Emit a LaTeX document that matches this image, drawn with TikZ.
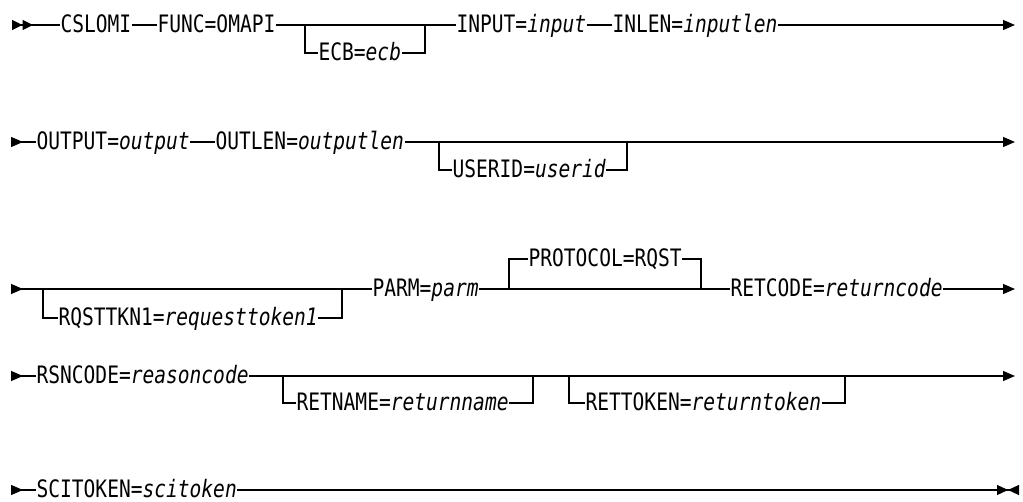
\documentclass[tikz,border=0pt]{standalone}
\usepackage{fontspec}
\setmonofont[FakeStretch=0.815]{DejaVu Sans Mono}
\usetikzlibrary{positioning, arrows.meta}

\begin{document}
\begin{tikzpicture}[x=1pt, y=-1pt, line width=1.2pt,
    kw/.style={anchor=west, inner sep=0pt, text height=15pt, text depth=0pt,
               font=\ttfamily\fontsize{24}{26}\selectfont},
    into/.style={{Triangle[reversed,length=12pt,width=10pt]}-},
    outof/.style={-{Triangle[length=12pt,width=10pt]}}]

    \useasboundingbox (0,0) rectangle (1023,502);

    % First line of the statement
    \coordinate (r1s) at (12,25);
    \node[kw] (cslomi) at (60,25) {CSLOMI};
    \node[kw] (func) at (157,25) {FUNC=OMAPI};
    \node[kw] (ecb) at (318,53) {ECB=\textit{ecb}};
    \node[kw] (input) at (456,25) {INPUT=\textit{input}};
    \node[kw] (inlen) at (612,25) {INLEN=\textit{inputlen}};
    \coordinate (ecbin) at (305,25);
    \coordinate (ecbout) at (425,25);
    \coordinate (r1e) at (1015,25);

    \draw[{Triangle[reversed,length=10.5pt,width=10pt]Triangle[reversed,length=10.5pt,width=10pt]}-]
        (r1s) -- (cslomi);
    \draw (cslomi) -- (func);
    \draw (func) -- (input);
    \draw (ecbin) |- (ecb);
    \draw (ecb) -| (ecbout);
    \draw (input) -- (inlen);
    \draw[outof] (inlen) -- (r1e);

    % Second line
    \coordinate (r2s) at (11,142);
    \node[kw] (output) at (36,142) {OUTPUT=\textit{output}};
    \node[kw] (outlen) at (215,142) {OUTLEN=\textit{outputlen}};
    \node[kw] (userid) at (452,170) {USERID=\textit{userid}};
    \coordinate (uidin) at (439,142);
    \coordinate (uidout) at (627,142);
    \coordinate (r2e) at (1015,142);

    \draw[into] (r2s) -- (output);
    \draw (output) -- (outlen);
    \draw[outof] (outlen) -- (r2e);
    \draw (uidin) |- (userid);
    \draw (userid) -| (uidout);

    % Third line
    \coordinate (r3s) at (11,289);
    \node[kw] (rqsttkn) at (58,318) {RQSTTKN1=\textit{requesttoken1}};
    \node[kw] (parm) at (372,289) {PARM=\textit{parm}};
    \node[kw] (protocol) at (528,259) {PROTOCOL=RQST};
    \node[kw] (retcode) at (730,289) {RETCODE=\textit{returncode}};
    \coordinate (tknin) at (43,289);
    \coordinate (tknout) at (342,289);
    \coordinate (protin) at (509,289);
    \coordinate (protout) at (701,289);
    \coordinate (r3e) at (1015,289);

    \draw[into] (r3s) -- (parm);
    \draw (tknin) |- (rqsttkn);
    \draw (rqsttkn) -| (tknout);
    \draw (parm) -- (retcode);
    \draw (protin) |- (protocol);
    \draw (protocol) -| (protout);
    \draw[outof] (retcode) -- (r3e);

    % Fourth line
    \coordinate (r4s) at (11,376);
    \node[kw] (rsncode) at (36,376) {RSNCODE=\textit{reasoncode}};
    \node[kw] (retname) at (296,403) {RETNAME=\textit{returnname}};
    \node[kw] (rettoken) at (585,403) {RETTOKEN=\textit{returntoken}};
    \coordinate (namein) at (283,376);
    \coordinate (nameout) at (533,376);
    \coordinate (tokin) at (569,376);
    \coordinate (tokout) at (845,376);
    \coordinate (r4e) at (1015,376);

    \draw[into] (r4s) -- (rsncode);
    \draw[outof] (rsncode) -- (r4e);
    \draw (namein) |- (retname);
    \draw (retname) -| (nameout);
    \draw (tokin) |- (rettoken);
    \draw (rettoken) -| (tokout);

    % Last line
    \coordinate (r5s) at (11,490);
    \node[kw] (scitoken) at (36,490) {SCITOKEN=\textit{scitoken}};
    \coordinate (r5e) at (1019,490);

    \draw[into] (r5s) -- (scitoken);
    \draw[-{Triangle[length=11pt,width=10pt,sep=0pt]Triangle[reversed,length=11pt,width=10pt]}]
        (scitoken) -- (r5e);

\end{tikzpicture}
\end{document}
